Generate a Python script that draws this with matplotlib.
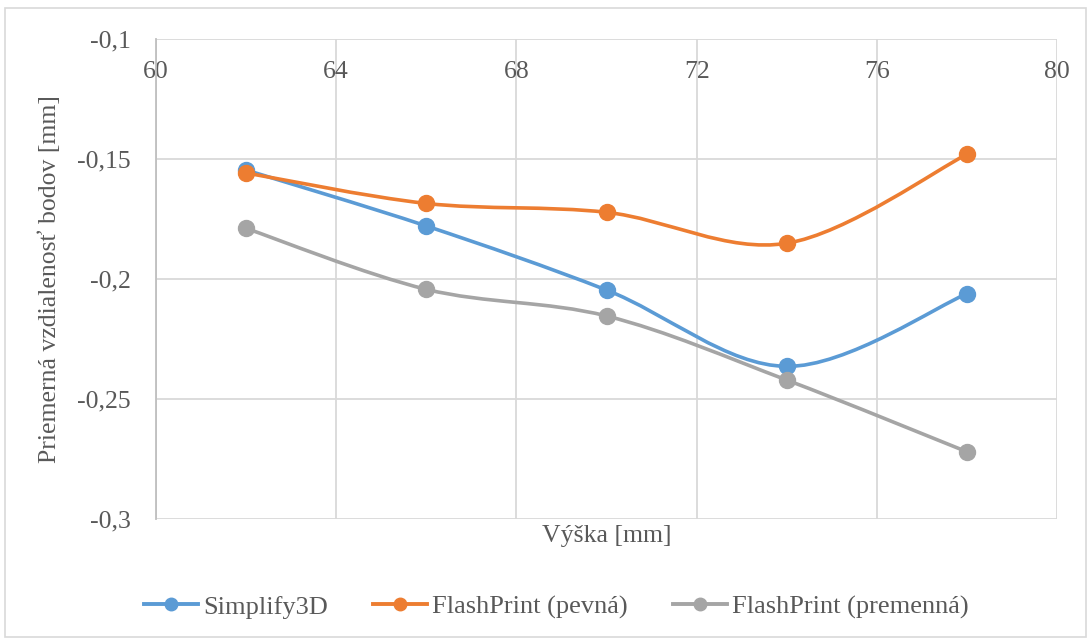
import numpy as np
import matplotlib.pyplot as plt
from matplotlib.path import Path
from matplotlib.patches import PathPatch, Rectangle
from matplotlib.lines import Line2D
from matplotlib.ticker import FuncFormatter

plt.rcParams['font.family'] = ['Liberation Serif', 'DejaVu Serif']

vyska = [62, 66, 70, 74, 78]
simplify3d = [-0.1546, -0.1779, -0.2046, -0.2364, -0.2061]
flash_pevna = [-0.1558, -0.1685, -0.1722, -0.1851, -0.1480]
flash_premenna = [-0.1789, -0.2043, -0.2154, -0.2421, -0.2720]
labels = ['Simplify3D', 'FlashPrint (pevná)', 'FlashPrint (premenná)']
colors = ['#5B9BD5', '#ED7D31', '#A5A5A5']
text_col = '#595959'


def smooth_path(x, y):
    # Excel-like smoothed line: cubic Bezier through the points
    p = np.column_stack([x, y]).astype(float)
    pts = np.vstack([p[0], p, p[-1]])
    verts = [p[0]]
    codes = [Path.MOVETO]
    for i in range(1, len(pts) - 2):
        c1 = pts[i] + (pts[i + 1] - pts[i - 1]) / 6
        c2 = pts[i + 1] - (pts[i + 2] - pts[i]) / 6
        verts += [c1, c2, pts[i + 1]]
        codes += [Path.CURVE4] * 3
    return Path(verts, codes)


fig = plt.figure(figsize=(10.91, 6.43), dpi=100)
ax = fig.add_axes([0.143, 0.1928, 0.826, 0.7465])

for ys, c, lab in zip([simplify3d, flash_pevna, flash_premenna], colors, labels):
    ax.add_patch(PathPatch(smooth_path(vyska, ys), facecolor='none',
                           edgecolor=c, lw=2.6, zorder=3, capstyle='round'))
    ax.plot(vyska, ys, 'o', color=c, ms=11.5, zorder=4, label=lab)

ax.set_xlim(60, 80)
ax.set_ylim(-0.3, -0.1)
ax.set_xticks(np.arange(60, 81, 4))
ax.set_yticks(np.arange(-0.3, -0.099, 0.05))
ax.yaxis.set_major_formatter(FuncFormatter(lambda v, _: ('%g' % round(v, 3)).replace('.', ',')))
ax.grid(True, color='#D9D9D9', lw=1.3)
ax.set_axisbelow(True)
for s in ['right', 'bottom', 'top']:
    ax.spines[s].set_visible(False)
ax.spines['left'].set_color('#BFBFBF')
ax.spines['left'].set_linewidth(1.3)

ax.xaxis.tick_top()
ax.tick_params(axis='x', length=0, pad=-24, labelsize=18.5, labelcolor=text_col)
ax.tick_params(axis='y', length=0, pad=18, labelsize=18.5, labelcolor=text_col)
for t in ax.get_xticklabels():
    t.set_verticalalignment('center')

ax.set_xlabel('Výška [mm]', fontsize=18.5, color=text_col, labelpad=4)
ax.xaxis.set_label_position('bottom')
ax.set_ylabel('Priemerná vzdialenosť bodov [mm]', fontsize=18.5, color=text_col, labelpad=12)

handles = [Line2D([], [], color=c, lw=2.8, marker='o', ms=9) for c in colors]
fig.legend(handles, labels, loc='center', bbox_to_anchor=(0.510, 0.056), ncol=3,
           frameon=False, fontsize=19, labelcolor=text_col, handlelength=2.05,
           handletextpad=0.2, columnspacing=1.7)

fig.patches.append(Rectangle((0.005, 0.01), 0.99, 0.978, transform=fig.transFigure,
                             fill=False, edgecolor='#D9D9D9', lw=1.2))

fig.savefig('out.png', dpi=100)
